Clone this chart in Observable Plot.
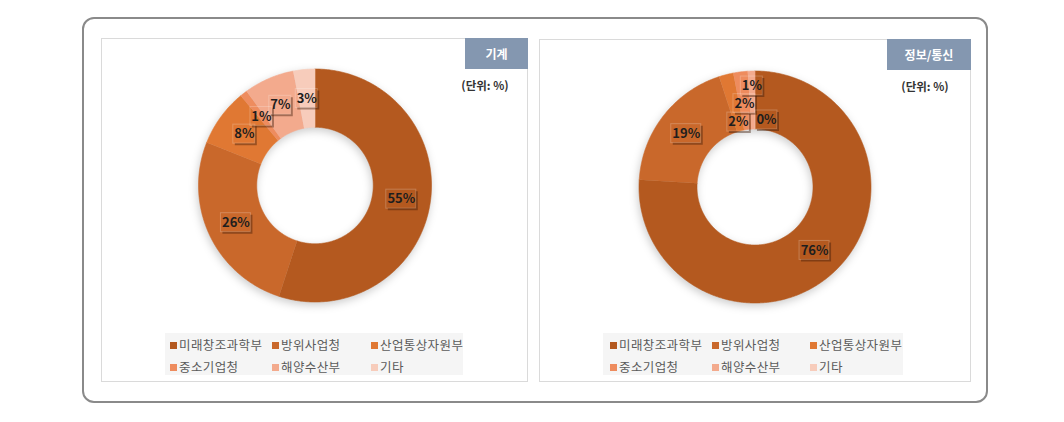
<!DOCTYPE html>
<html><head><meta charset="utf-8">
<script src="https://cdn.jsdelivr.net/npm/d3@7"></script>
<script src="https://cdn.jsdelivr.net/npm/@observablehq/plot@0.6"></script>
<style>
body{margin:0;background:#fff;font-family:"Noto Sans CJK KR","Noto Sans",sans-serif;}
#root{position:relative;width:1064px;height:422px;overflow:hidden;}
.outer{position:absolute;left:82px;top:17px;width:906px;height:386px;box-sizing:border-box;border:2px solid #8a8a8a;border-radius:12px;}
.panel{position:absolute;box-sizing:border-box;border:1px solid #dadada;background:#fff;}
.chart{position:absolute;}
.title{position:absolute;background:#8497b0;color:#fff;font-weight:bold;font-size:12px;display:flex;align-items:center;justify-content:center;}
.unit{position:absolute;font-size:11.5px;color:#333;font-weight:bold;transform:translateX(-50%);white-space:nowrap;line-height:16px;}
.legend{position:absolute;background:#f5f5f5;}
.li{position:absolute;font-size:12.5px;color:#5a5a5a;letter-spacing:0.4px;white-space:nowrap;line-height:14px;}
.li i{display:inline-block;width:7px;height:7px;margin-right:2px;vertical-align:1px;}
svg g[aria-label="line"]{filter:drop-shadow(-1px 3px 4px rgba(0,0,0,0.2));}
</style>
</head><body><div id="root"><div class="outer"></div></div>
<script>
const categories = ["미래창조과학부","방위사업청","산업통상자원부","중소기업청","해양수산부","기타"];
const colors = ["#b4591f","#c9682b","#e07833","#ee8c5e","#f3aa8d","#f7ccbb"];
const machineValues = [55,26,8,1,7,3];
const ictValues = [76,19,2,2,1,0];
const panelTitles = ["기계","정보/통신"];
const unitLabel = "(단위: %)";

const panels = [
  {values: machineValues, title: panelTitles[0], x:101, y:38, w:427, h:344, cx:314.5, cy:185, r:116.5,
   tb:{x:465,y:38,w:63,h:31}, unit:{x:485,y:77}, lg:{x:165,y:333,w:298,h:42,cols:[5,107,206]}},
  {values: ictValues, title: panelTitles[1], x:539, y:39, w:432, h:343, cx:754.5, cy:186.5, r:116,
   tb:{x:887,y:39,w:84,h:31}, unit:{x:925,y:78}, lg:{x:603,y:333,w:300,h:42,cols:[7,109,207]}}
];
const INNER = 0.5, MID = 0.75;
const root = document.getElementById("root");

function ringRows(values){
  const rows = []; let cum = 0;
  const total = d3.sum(values);
  values.forEach((v,i)=>{
    const a0 = cum/total, a1 = (cum+v)/total; cum += v;
    if (v <= 0) return;
    const n = Math.max(2, Math.ceil((a1-a0)*720));
    for (let k=0;k<=n;k++){ const t=(a0+(a1-a0)*k/n)*2*Math.PI; rows.push({cat:categories[i], x:Math.sin(t), y:Math.cos(t)}); }
    for (let k=n;k>=0;k--){ const t=(a0+(a1-a0)*k/n)*2*Math.PI; rows.push({cat:categories[i], x:INNER*Math.sin(t), y:INNER*Math.cos(t)}); }
  });
  return rows;
}

function labelRows(values, R){
  const total = d3.sum(values); let cum = 0;
  const labs = values.map((v,i)=>{
    const a = (cum + v/2)/total*2*Math.PI; cum += v;
    const text = v + "%";
    return {cat:categories[i], a, text, w:(text.length>=3?30:22)/R, h:18/R, x:MID*Math.sin(a), y:MID*Math.cos(a)};
  });
  const groups = []; let cur = [labs[0]];
  for (let i=1;i<labs.length;i++){
    const p = cur[cur.length-1], q = labs[i];
    if (Math.hypot(p.x-q.x, p.y-q.y)*R < 20) cur.push(q); else { groups.push(cur); cur=[q]; }
  }
  groups.push(cur);
  const placed = [];
  const overlaps = (a,b)=> Math.abs(a.x-b.x) < (a.w+b.w)/2 && Math.abs(a.y-b.y) < (a.h+b.h)/2;
  for (const g of groups){
    if (g.length === 1){ placed.push(g[0]); continue; }
    const r0 = MID - 20/R, step = 17/R, rmax = 1 - 10/R;
    g.forEach((d,k)=>{
      let r = r0 + k*step;
      if (r > rmax){
        r = r0; d.x = r*Math.sin(d.a); d.y = r*Math.cos(d.a);
        let moved = true;
        while (moved){ moved = false; for (const p of placed){ if (overlaps(d,p)){ d.x = p.x + (p.w+d.w)/2; moved = true; } } }
      } else { d.x = r*Math.sin(d.a); d.y = r*Math.cos(d.a); }
      placed.push(d);
    });
  }
  return labs;
}

function boxMark(labs){
  return (index, scales) => {
    const g = d3.create("svg:g");
    for (const d of labs){
      const px = scales.x(d.x), py = scales.y(d.y);
      const w = (d.text.length>=3?30:22), h = 19;
      g.append("rect").attr("x",px-w/2).attr("y",py-h/2).attr("width",w).attr("height",h)
        .attr("fill","none").attr("stroke","rgba(255,255,255,0.22)").attr("stroke-width",1);
      g.append("path").attr("d",`M${px+w/2+1},${py-h/2+2}V${py+h/2+1}H${px-w/2+2}`)
        .attr("fill","none").attr("stroke","rgba(60,25,5,0.42)").attr("stroke-width",2);
    }
    return g.node();
  };
}

for (const P of panels){
  const panel = document.createElement("div");
  panel.className = "panel";
  Object.assign(panel.style,{left:P.x+"px",top:P.y+"px",width:P.w+"px",height:P.h+"px"});
  root.appendChild(panel);

  const lcx = P.cx - P.x, lcy = P.cy - P.y;
  const labs = labelRows(P.values, P.r);
  const svg = Plot.plot({
    width: P.w, height: P.h, margin: 0,
    x:{domain:[-1,1], range:[lcx-P.r, lcx+P.r], axis:null},
    y:{domain:[-1,1], range:[lcy+P.r, lcy-P.r], axis:null},
    color:{domain:categories, range:colors},
    style:{fontFamily:'"Noto Sans CJK KR","Noto Sans",sans-serif', background:"transparent"},
    marks:[
      Plot.line(ringRows(P.values), {x:"x", y:"y", z:"cat", fill:"cat", stroke:"cat", strokeWidth:0.6, curve:"linear"}),
      boxMark(labs),
      Plot.text(labs, {x:"x", y:"y", text:"text", fontSize:13, fontWeight:"bold", fill:"#1e1e1e"})
    ]
  });
  const holder = document.createElement("div");
  holder.className = "chart";
  Object.assign(holder.style,{left:P.x+"px",top:P.y+"px"});
  holder.appendChild(svg);
  root.appendChild(holder);

  const tb = document.createElement("div");
  tb.className = "title"; tb.textContent = P.title;
  Object.assign(tb.style,{left:P.tb.x+"px",top:P.tb.y+"px",width:P.tb.w+"px",height:P.tb.h+"px"});
  root.appendChild(tb);

  const un = document.createElement("div");
  un.className = "unit"; un.textContent = unitLabel;
  Object.assign(un.style,{left:P.unit.x+"px",top:P.unit.y+"px"});
  root.appendChild(un);

  const lg = document.createElement("div");
  lg.className = "legend";
  Object.assign(lg.style,{left:P.lg.x+"px",top:P.lg.y+"px",width:P.lg.w+"px",height:P.lg.h+"px"});
  categories.forEach((c,i)=>{
    const it = document.createElement("div");
    it.className = "li";
    it.innerHTML = `<i style="background:${colors[i]}"></i>${c}`;
    Object.assign(it.style,{left:P.lg.cols[i%3]+"px", top:(i<3?5:27)+"px"});
    lg.appendChild(it);
  });
  root.appendChild(lg);
}
</script></body></html>
